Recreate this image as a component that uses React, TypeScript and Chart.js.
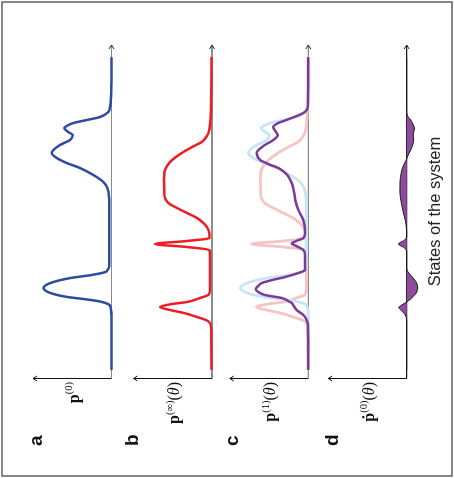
import React, { useEffect, useRef } from 'react';
import { Chart, registerables } from 'chart.js';

Chart.register(...registerables);

// ---- data (theta = state of the system, value = probability, arbitrary units) ----
const THETA_P0 = [0, 54, 59, 64, 66, 68, 70, 72, 76, 81, 86, 91, 94, 97, 99, 103, 130, 159, 172, 181, 187, 194, 201, 206, 211, 216, 219, 224, 229, 234, 237, 241, 243, 246, 249, 252, 257, 262, 280, 311];
const P0 = [0, 0, 0.5, 2, 6, 14, 28, 44, 61, 68, 61, 41, 20, 6, 4, 2.2, 2.3, 2.2, 2.5, 4.2, 8.2, 18.2, 31.5, 44.8, 54.8, 59.8, 58.2, 51.5, 41.5, 38.8, 43.2, 47.2, 44.8, 38.2, 24.8, 11.5, 3.2, 1.5, 0.3, 0];

const THETA_PINF = [0, 39, 46, 49, 52, 56, 59, 62, 65, 67, 71, 74, 79, 114, 119, 122, 125, 128, 131, 136, 141, 146, 151, 156, 159, 166, 176, 189, 199, 207, 212, 217, 223, 227, 233, 239, 249, 262, 311];
const PINF = [0.5, 0.8, 2, 6, 15, 28, 42, 52, 40, 25, 12, 3.7, 2, 2, 2.5, 25, 57, 25, 2.5, 2.7, 4.5, 8.7, 15, 25, 31, 43.7, 47.7, 48, 47, 42, 36, 28.7, 18, 10.3, 5, 2.7, 1.5, 1, 0.5];

const THETA_P1 = [0, 44, 49, 54, 59, 63, 66, 68, 71, 74, 77, 80, 83, 86, 89, 92, 96, 99, 114, 119, 123, 125.5, 128, 131, 136, 139, 149, 159, 169, 181, 189, 195, 201, 205, 209, 216, 223, 229, 234, 238, 242, 246, 249, 253, 256, 259, 264, 311];
const P1 = [0, 0.3, 1.6, 5, 11.6, 14.5, 16.6, 20, 26.6, 43.3, 50, 52.6, 50, 46.6, 36, 23.3, 10, 3.3, 3.3, 5, 12, 16.6, 12, 5, 3.3, 3.3, 5, 10, 13, 15, 18, 22, 30, 40, 48, 51.6, 45, 35, 30.6, 33, 35, 30, 22, 11.6, 5, 1.6, 0.3, 0];

const THETA_PDOT = [0, 47, 51, 55, 59, 61.5, 64, 67, 71, 76, 81, 86, 91, 96, 101, 117, 121, 125, 129, 133, 141, 149, 157, 167, 177, 187, 196, 203, 209, 214, 219, 224, 230, 235, 240, 244, 249, 254, 259, 311];
const PDOT = [0, 0, 0.3, 2, 6, 8, 5, 0, -5, -9.5, -11, -10, -6.5, -2, 0, 0, 2, 8.3, 2, 0, 0.3, 1.5, 3.5, 5.5, 6.8, 6.7, 5.5, 3.5, 0.5, -1.5, -4, -6, -7, -6.5, -7.8, -6.7, -4, -0.5, 0, 0];

const PANEL_LETTERS = ['a', 'b', 'c', 'd'];
const LABEL_MAIN = ['p', 'p', 'p', 'ṗ'];
const LABEL_SUP = ['(0)', '(∞)', '(1)', '(0)'];
const LABEL_HAS_ARG = [false, true, true, true];
const X_TITLE = 'States of the system';

// ---- layout / style (original, unrotated orientation) ----
const W = 478;
const H = 454;
const X_LEFT = 99.5;
const X_RIGHT = 433;
const T_MIN = -9.5;
const T_MAX = 324;
const BASE_Y = [111.5, 212, 308.3, 406.7];
const AXIS_LEN = 78.5;
const V_MIN = -15;
const LETTER_Y = [42, 138, 238, 338];
const AXIS_COLORS = ['#8a8a8a', '#1a1a1a', '#8a8a8a', '#1a1a1a'];

const BLUE = '#2e4c9f';
const RED = '#ee1d25';
const PINK = '#f8c3c3';
const LIGHT_BLUE = '#c8e5f7';
const PURPLE = '#7a3b98';
const FILL_PURPLE = '#8f4b9e';

const SANS = '"Liberation Sans", Arial, sans-serif';
const SERIF = '"Liberation Serif", "Times New Roman", serif';

function pts(t: number[], v: number[]) {
  return t.map((x, i) => ({ x, y: v[i] }));
}

function datasetsFor(i: number): any[] {
  const base = { pointRadius: 0, borderWidth: 2.5, fill: false };
  if (i === 0) return [{ ...base, data: pts(THETA_P0, P0), borderColor: BLUE }];
  if (i === 1) return [{ ...base, data: pts(THETA_PINF, PINF), borderColor: RED }];
  if (i === 2)
    // lower index is drawn on top in Chart.js
    return [
      { ...base, data: pts(THETA_P1, P1), borderColor: PURPLE },
      { ...base, data: pts(THETA_P0, P0), borderColor: LIGHT_BLUE, borderWidth: 2.8 },
      { ...base, data: pts(THETA_PINF, PINF), borderColor: PINK, borderWidth: 2.8 },
    ];
  return [
    {
      ...base,
      data: pts(THETA_PDOT, PDOT),
      borderColor: '#1a1a1a',
      borderWidth: 1,
      fill: 'origin',
      backgroundColor: FILL_PURPLE,
    },
  ];
}

function decor(i: number) {
  return {
    id: 'decor' + i,
    beforeDatasetsDraw(chart: any) {
      const ctx = chart.ctx as CanvasRenderingContext2D;
      const { left, right, top } = chart.chartArea;
      const y0 = chart.scales.y.getPixelForValue(0);
      ctx.save();
      ctx.lineCap = 'butt';
      // horizontal axis (states)
      ctx.strokeStyle = AXIS_COLORS[i];
      ctx.lineWidth = 1.2;
      ctx.beginPath();
      ctx.moveTo(left, y0);
      ctx.lineTo(right, y0);
      ctx.stroke();
      ctx.strokeStyle = '#222';
      ctx.lineWidth = 1;
      ctx.beginPath();
      ctx.moveTo(right - 4, y0 - 2.5);
      ctx.lineTo(right, y0);
      ctx.lineTo(right - 4, y0 + 2.5);
      ctx.stroke();
      // vertical axis (probability)
      ctx.strokeStyle = '#111';
      ctx.lineWidth = 1;
      ctx.beginPath();
      ctx.moveTo(left, y0);
      ctx.lineTo(left, top);
      ctx.stroke();
      ctx.beginPath();
      ctx.moveTo(left - 2.5, top + 4);
      ctx.lineTo(left, top);
      ctx.lineTo(left + 2.5, top + 4);
      ctx.stroke();
      ctx.restore();
    },
    afterDraw(chart: any) {
      const ctx = chart.ctx as CanvasRenderingContext2D;
      const y0 = chart.scales.y.getPixelForValue(0);
      ctx.save();
      ctx.textBaseline = 'alphabetic';
      ctx.textAlign = 'left';
      ctx.fillStyle = '#111';
      // panel letter
      ctx.font = `bold 19px ${SANS}`;
      ctx.fillText(PANEL_LETTERS[i], 32, LETTER_Y[i]);
      // axis label p^(k)(θ)
      const mainFont = `bold 16px ${SERIF}`;
      const supFont = `10.5px ${SERIF}`;
      const parFont = `16px ${SERIF}`;
      const thFont = `italic 16px ${SERIF}`;
      const parts: [string, string, number][] = [
        [LABEL_MAIN[i], mainFont, 0],
        [LABEL_SUP[i], supFont, -6.5],
      ];
      if (LABEL_HAS_ARG[i]) {
        parts.push(['(', parFont, 0], ['θ', thFont, 0], [')', parFont, 0]);
      }
      let total = 0;
      const widths = parts.map(([s, f]) => {
        ctx.font = f;
        const w = ctx.measureText(s).width;
        total += w;
        return w;
      });
      let x = 96 - total;
      const baseY = y0 - 33;
      parts.forEach(([s, f, dy], k) => {
        ctx.font = f;
        ctx.fillText(s, x, baseY + dy);
        x += widths[k];
      });
      if (i === 0) {
        ctx.strokeStyle = '#555';
        ctx.lineWidth = 1.4;
        ctx.strokeRect(2, 2, W - 4, H - 4);
      }
      if (i === 3) {
        ctx.font = `16.5px ${SANS}`;
        ctx.textAlign = 'center';
        ctx.fillStyle = '#222';
        ctx.fillText(X_TITLE, 266.5, 439.5);
      }
      ctx.restore();
    },
  };
}

function configFor(i: number): any {
  return {
    type: 'line',
    data: { datasets: datasetsFor(i) },
    options: {
      responsive: false,
      animation: false,
      devicePixelRatio: 1,
      layout: {
        padding: {
          left: X_LEFT,
          right: W - X_RIGHT,
          top: BASE_Y[i] - AXIS_LEN,
          bottom: H - (BASE_Y[i] - V_MIN),
        },
      },
      scales: {
        x: { type: 'linear', min: T_MIN, max: T_MAX, display: false },
        y: { type: 'linear', min: V_MIN, max: AXIS_LEN, display: false },
      },
      elements: {
        point: { radius: 0 },
        line: { cubicInterpolationMode: 'monotone', borderCapStyle: 'round', borderJoinStyle: 'round' },
      },
      plugins: { legend: { display: false }, tooltip: { enabled: false } },
    },
    plugins: [decor(i)],
  };
}

export default function App() {
  const r0 = useRef<HTMLCanvasElement>(null);
  const r1 = useRef<HTMLCanvasElement>(null);
  const r2 = useRef<HTMLCanvasElement>(null);
  const r3 = useRef<HTMLCanvasElement>(null);
  const refs = [r0, r1, r2, r3];

  useEffect(() => {
    const charts = refs.map((r, i) => new Chart(r.current as HTMLCanvasElement, configFor(i)));
    return () => charts.forEach((c) => c.destroy());
  }, []);

  return (
    <div style={{ position: 'absolute', left: 0, top: 0, width: H, height: W, overflow: 'hidden', background: '#fff' }}>
      <div
        style={{
          position: 'absolute',
          left: 0,
          top: 0,
          width: W,
          height: H,
          transformOrigin: '0 0',
          transform: `translate(0px, ${W}px) rotate(-90deg)`,
          background: '#fff',
        }}
      >
        {refs.map((r, i) => (
          <canvas
            key={i}
            ref={r}
            width={W}
            height={H}
            style={{ position: 'absolute', left: 0, top: 0, width: W, height: H }}
          />
        ))}
      </div>
    </div>
  );
}
